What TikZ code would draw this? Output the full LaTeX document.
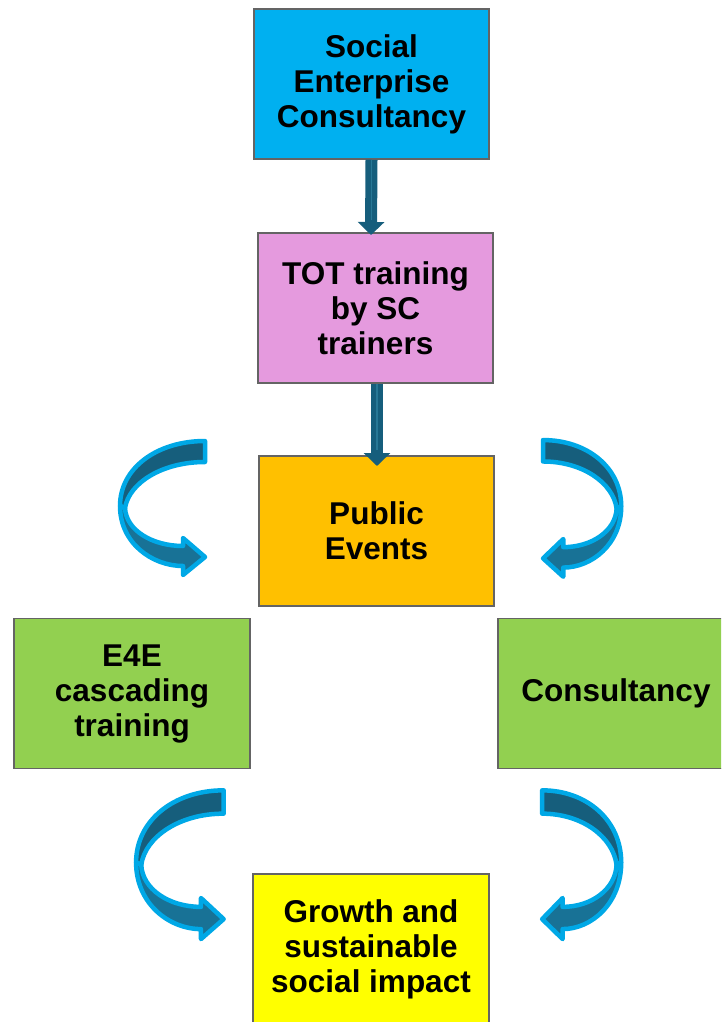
\documentclass[tikz,border=0pt]{standalone}
\usepackage{fontspec}
\setmainfont{Liberation Sans}
\usetikzlibrary{arrows.meta}
\definecolor{cblue}{RGB}{0,176,240}
\definecolor{cpink}{RGB}{229,154,222}
\definecolor{corange}{RGB}{255,192,0}
\definecolor{cgreen}{RGB}{146,208,80}
\definecolor{cyellow}{RGB}{255,255,0}
\definecolor{cborder}{RGB}{100,100,100}
\definecolor{cdark}{RGB}{22,94,124}
\definecolor{cmid}{RGB}{24,114,150}
\definecolor{clight}{RGB}{40,120,150}
\definecolor{coutline}{RGB}{0,168,230}
\tikzset{
  box/.style={draw=cborder, line width=1.5pt, rectangle, minimum width=235pt, minimum height=150pt,
    align=center, inner sep=0pt, font=\fontsize{31.5}{35}\selectfont\bfseries, text=black},
  straightarrow/.style={draw=cdark, line width=12pt, -{Triangle[width=26pt,length=13pt]}},
  piece/.style={draw=coutline, line width=4.5pt, line join=round},
}
\newcommand{\curvedarrow}{%
  \path[piece, fill=cdark] (88,3) .. controls (40,3) and (3,30) .. (3,68) -- (8,70)
     .. controls (12,45) and (45,24) .. (88,24) -- cycle;
  \path[piece, fill=cmid] (3,68) .. controls (3,105) and (35,128) .. (66,128) -- (66,137) -- (88,119)
     -- (66,100) -- (66,108) .. controls (35,108) and (9,92) .. (8,70) -- cycle;
}
\begin{document}
\begin{tikzpicture}[x=1pt,y=-1pt]
\useasboundingbox (0,0) rectangle (721,1022);
\clip (0,0) rectangle (721,1022);
\node[box, fill=cblue] (sec) at (371.5,84) {Social\\Enterprise\\Consultancy};
\node[box, fill=cpink] (tot) at (375.5,308) {TOT training\\by SC\\trainers};
\node[box, fill=corange] (pub) at (376.5,531) {Public\\Events};
\node[box, fill=cgreen, minimum width=236pt] (e4e) at (132,693.5) {E4E\\cascading\\training};
\node[box, fill=cgreen, minimum width=236pt] (con) at (616,693.5) {Consultancy};
\node[box, fill=cyellow, minimum width=236pt, minimum height=151pt] (gro) at (371,949.5) {Growth and\\sustainable\\social impact};
\coordinate (tip1) at (371,235);
\coordinate (tip2) at (377,466);
\draw[straightarrow] (sec.south) -- (tip1);
\draw[straightarrow] (tot.south -| tip2) -- (tip2);
\draw[clight, line width=1.5pt] (sec.south) -- ++(0,60);
\draw[clight, line width=1.5pt] (tot.south -| tip2) -- ++(0,66);
\begin{scope}[shift={(117,438)}]
  \curvedarrow
\end{scope}
\begin{scope}[shift={(624,437)}, xscale=-0.92, yscale=1.02]
  \curvedarrow
\end{scope}
\begin{scope}[shift={(133,787)}, xscale=1.03, yscale=1.11]
  \curvedarrow
\end{scope}
\begin{scope}[shift={(624,787)}, xscale=-0.93, yscale=1.11]
  \curvedarrow
\end{scope}
\end{tikzpicture}
\end{document}
